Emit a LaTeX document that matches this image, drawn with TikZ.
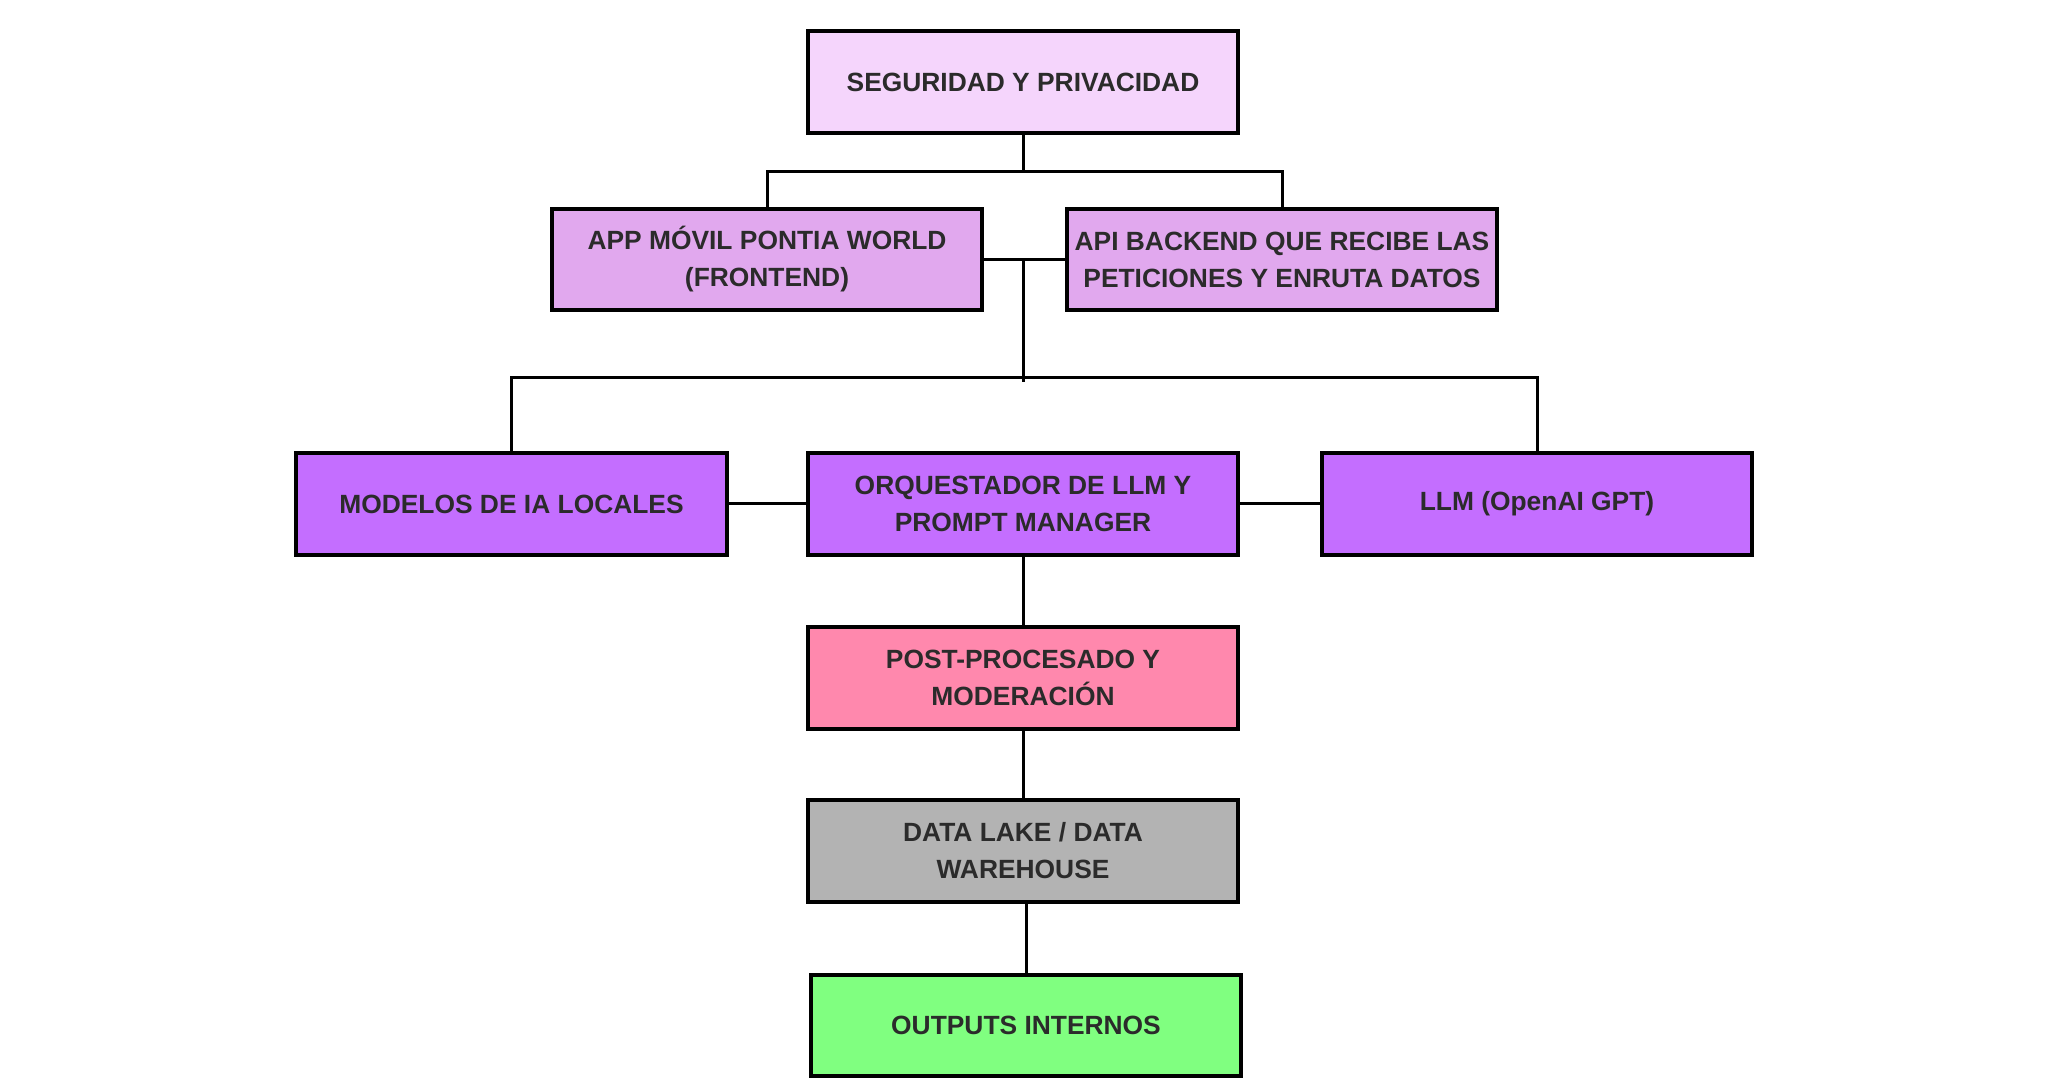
\documentclass[tikz,border=0pt]{standalone}
\usepackage{fontspec}
\setmainfont{Liberation Sans}
\definecolor{txt}{HTML}{2B2B2B}
\definecolor{cTop}{HTML}{F5D5FC}
\definecolor{cTwo}{HTML}{E1A8EE}
\definecolor{cThree}{HTML}{C46EFF}
\definecolor{cPost}{HTML}{FF88AD}
\definecolor{cData}{HTML}{B3B3B3}
\definecolor{cOut}{HTML}{80FF80}
\tikzset{
  box/.style={draw=black, line width=1.14pt, rectangle, minimum width=4.30cm, minimum height=1.01cm,
    inner sep=0pt, align=center, text=txt, font=\fontsize{7.5pt}{10.5pt}\selectfont\bfseries},
  link/.style={draw=black, line width=0.85pt}
}
\begin{document}
\begin{tikzpicture}[x=0.01cm,y=-0.01cm]
\useasboundingbox (0,0) rectangle (2048,1080);
\node[box, fill=cTop]   (top)  at (1023,82)    {SEGURIDAD Y PRIVACIDAD};
\node[box, fill=cTwo]   (app)  at (767,259.5)  {APP MÓVIL PONTIA WORLD\\(FRONTEND)};
\node[box, fill=cTwo]   (api)  at (1282,259.5) {API BACKEND QUE RECIBE LAS\\PETICIONES Y ENRUTA DATOS};
\node[box, fill=cThree] (mod)  at (511.5,504)  {MODELOS DE IA LOCALES};
\node[box, fill=cThree] (orq)  at (1023,504)   {ORQUESTADOR DE LLM Y\\PROMPT MANAGER};
\node[box, fill=cThree] (llm)  at (1537,504)   {LLM (OpenAI GPT)};
\node[box, fill=cPost]  (post) at (1023,678)   {POST-PROCESADO Y\\MODERACIÓN};
\node[box, fill=cData]  (data) at (1023,851)   {DATA LAKE / DATA\\WAREHOUSE};
\node[box, fill=cOut]   (out)  at (1026,1025.5) {OUTPUTS INTERNOS};
\coordinate (j1) at (1023,172);
\coordinate (j2) at (1023,259.5);
\coordinate (j3) at (1023,378);
\coordinate (j3b) at (1023,382);
\path[link] (top.south) -- (j1);
\path[link] (app.north) -- (app.north |- j1) -- (api.north |- j1) -- (api.north);
\path[link] (app.east) -- (api.west);
\path[link] (j2) -- (j3b);
\path[link] (mod.north) -- (mod.north |- j3) -- (llm.north |- j3) -- (llm.north);
\path[link] (mod.east) -- (orq.west);
\path[link] (orq.east) -- (llm.west);
\path[link] (orq.south) -- (post.north);
\path[link] (post.south) -- (data.north);
\path[link] (data.south -| out.north) -- (out.north);
\end{tikzpicture}
\end{document}
